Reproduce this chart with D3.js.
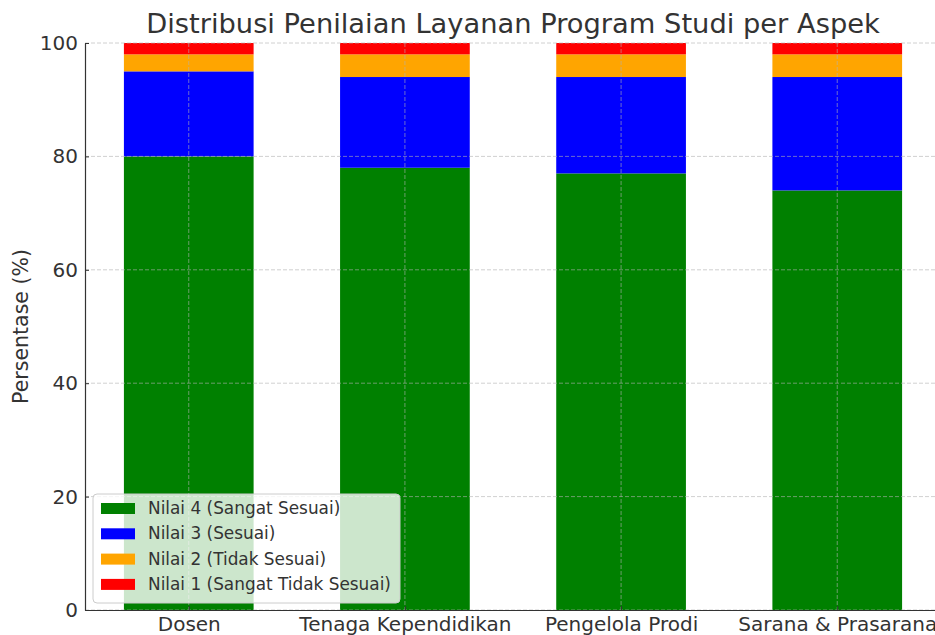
<!DOCTYPE html>
<html>
<head>
<meta charset="utf-8">
<script src="https://cdn.jsdelivr.net/npm/d3@7"></script>
<style>
  body { margin: 0; background: #fff; }
  text { font-family: "DejaVu Sans", sans-serif; fill: #333; }
</style>
</head>
<body>
<div id="chart"></div>
<script>
// categories and series (percent)
const aspects = ["Dosen", "Tenaga Kependidikan", "Pengelola Prodi", "Sarana & Prasarana"];
const nilai4 = [80, 78, 77, 74];
const nilai3 = [15, 16, 17, 20];
const nilai2 = [3, 4, 4, 4];
const nilai1 = [2, 2, 2, 2];
const seriesNames = ["Nilai 4 (Sangat Sesuai)", "Nilai 3 (Sesuai)", "Nilai 2 (Tidak Sesuai)", "Nilai 1 (Sangat Tidak Sesuai)"];
const seriesColors = ["green", "blue", "orange", "red"];
const yTicks = [0, 20, 40, 60, 80, 100];

const W = 935, H = 635;
const margin = { top: 43, right: 0, bottom: 25, left: 85 };
const plotW = 856; // runs past the right edge like the source
const height = H - margin.top - margin.bottom;

const svg = d3.select("#chart").append("svg")
  .attr("width", W).attr("height", H);
const g = svg.append("g")
  .attr("transform", "translate(" + margin.left + "," + margin.top + ")");

// x: index scale with matplotlib style margins
const xScale = d3.scaleLinear().domain([-0.48, 3.48]).range([0, plotW]);
const yScale = d3.scaleLinear().domain([0, 100]).range([height, 0]);
const barW = xScale(0.6) - xScale(0);

const rows = aspects.map((a, i) => ({ aspect: a, i: i, s0: nilai4[i], s1: nilai3[i], s2: nilai2[i], s3: nilai1[i] }));
const stack = d3.stack().keys(["s0", "s1", "s2", "s3"])(rows);

// bars
stack.forEach((layer, k) => {
  g.selectAll(".bar" + k)
    .data(layer)
    .enter()
    .append("rect")
    .attr("x", d => xScale(d.data.i) - barW / 2)
    .attr("width", barW)
    .attr("y", d => yScale(d[1]))
    .attr("height", d => yScale(d[0]) - yScale(d[1]))
    .attr("fill", seriesColors[k]);
});

// grid on top of bars
g.selectAll(".ygrid").data(yTicks).enter().append("line")
  .attr("x1", 0).attr("x2", plotW)
  .attr("y1", d => yScale(d)).attr("y2", d => yScale(d))
  .attr("stroke", "#b0b0b0").attr("stroke-opacity", 0.6)
  .attr("stroke-dasharray", "4,2").attr("stroke-width", 1);
g.selectAll(".xgrid").data(aspects).enter().append("line")
  .attr("x1", (d, i) => xScale(i)).attr("x2", (d, i) => xScale(i))
  .attr("y1", 0).attr("y2", height)
  .attr("stroke", "#b0b0b0").attr("stroke-opacity", 0.6)
  .attr("stroke-dasharray", "4,2").attr("stroke-width", 1);

// y-axis
const yAxis = d3.axisLeft(yScale).tickValues(yTicks).tickSizeInner(-4).tickSizeOuter(0).tickPadding(7);
const yg = g.append("g").call(yAxis);
yg.select(".domain").attr("stroke", "#333").attr("stroke-width", 1.2);
yg.selectAll(".tick line").attr("stroke", "#333");
yg.selectAll(".tick text").attr("font-size", 20).style("fill", "#333");

// x-axis
const xAxis = d3.axisBottom(xScale).tickValues([0, 1, 2, 3]).tickFormat(i => aspects[i])
  .tickSizeInner(-4).tickSizeOuter(0).tickPadding(7);
const xg = g.append("g").attr("transform", "translate(0," + height + ")").call(xAxis);
xg.select(".domain").attr("stroke", "#333").attr("stroke-width", 1.2);
xg.selectAll(".tick line").attr("stroke", "#333");
xg.selectAll(".tick text").attr("font-size", 20).style("fill", "#333");

// title and y label
svg.append("text")
  .attr("x", margin.left + plotW / 2).attr("y", 33)
  .attr("text-anchor", "middle").attr("font-size", 27.3)
  .text("Distribusi Penilaian Layanan Program Studi per Aspek");
svg.append("text")
  .attr("transform", "translate(28," + (margin.top + height / 2) + ") rotate(-90)")
  .attr("text-anchor", "middle").attr("font-size", 20.5)
  .text("Persentase (%)");

// legend
const lg = g.append("g").attr("transform", "translate(8," + (height - 116) + ")");
lg.append("rect")
  .attr("width", 307).attr("height", 109).attr("rx", 4)
  .attr("fill", "white").attr("fill-opacity", 0.8)
  .attr("stroke", "#ccc");
seriesNames.forEach((name, k) => {
  const row = lg.append("g").attr("transform", "translate(0," + (14 + k * 25.3) + ")");
  row.append("rect").attr("x", 8).attr("y", -5).attr("width", 34).attr("height", 11)
    .attr("fill", seriesColors[k]);
  row.append("text").attr("x", 55).attr("y", 6).attr("font-size", 16.9).text(name);
});
</script>
</body>
</html>
